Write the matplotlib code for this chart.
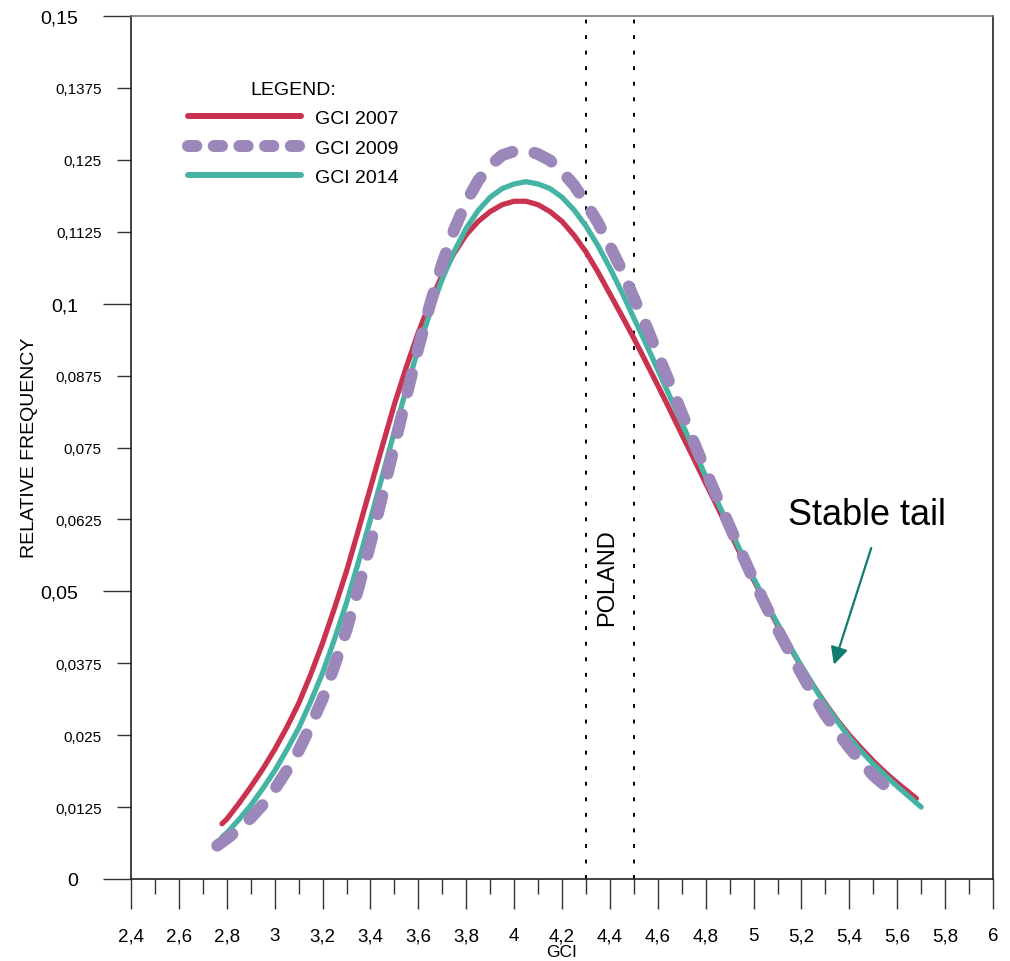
import matplotlib
matplotlib.use("Agg")
import matplotlib.pyplot as plt
from matplotlib.lines import Line2D

plt.rcParams['font.family'] = ['Liberation Sans', 'DejaVu Sans']

# GCI 2007
gci_2007_x = [2.78, 2.8, 2.85, 2.9, 2.95, 3.0, 3.05, 3.1, 3.15, 3.2, 3.25, 3.3, 3.35, 3.4, 3.45,
              3.5, 3.55, 3.6, 3.65, 3.7, 3.75, 3.8, 3.85, 3.9, 3.95, 4.0, 4.05, 4.1, 4.15, 4.2,
              4.25, 4.3, 4.35, 4.4, 4.45, 4.5, 4.55, 4.6, 4.65, 4.7, 4.75, 4.8, 4.85, 4.9, 4.95,
              5.0, 5.05, 5.1, 5.15, 5.2, 5.25, 5.3, 5.35, 5.4, 5.45, 5.5, 5.55, 5.6, 5.68]
gci_2007_y = [0.0096, 0.0104, 0.0131, 0.0160, 0.0191, 0.0225, 0.0263, 0.0305, 0.0355, 0.0410,
              0.0471, 0.0535, 0.0607, 0.0680, 0.0753, 0.0825, 0.0890, 0.0950, 0.1003, 0.1050,
              0.1088, 0.1120, 0.1143, 0.1160, 0.1172, 0.1178, 0.1178, 0.1172, 0.1160, 0.1143,
              0.1119, 0.1090, 0.1055, 0.1017, 0.0979, 0.0940, 0.0899, 0.0858, 0.0816, 0.0773,
              0.0731, 0.0688, 0.0646, 0.0603, 0.0561, 0.0520, 0.0480, 0.0441, 0.0404, 0.0369,
              0.0336, 0.0305, 0.0276, 0.0250, 0.0227, 0.0205, 0.0185, 0.0167, 0.0140]

# GCI 2009
gci_2009_x = [2.76, 2.8, 2.85, 2.9, 2.95, 3.0, 3.05, 3.1, 3.15, 3.2, 3.25, 3.3, 3.35, 3.4, 3.45,
              3.5, 3.55, 3.6, 3.65, 3.7, 3.75, 3.8, 3.85, 3.9, 3.95, 4.0, 4.05, 4.1, 4.15, 4.2,
              4.25, 4.3, 4.35, 4.4, 4.45, 4.5, 4.55, 4.6, 4.65, 4.7, 4.75, 4.8, 4.85, 4.9, 4.95,
              5.0, 5.05, 5.1, 5.15, 5.2, 5.25, 5.3, 5.35, 5.4, 5.45, 5.5, 5.55, 5.61]
gci_2009_y = [0.0058, 0.0070, 0.0087, 0.0106, 0.0129, 0.0156, 0.0188, 0.0223, 0.0266, 0.0313,
              0.0371, 0.0433, 0.0506, 0.0583, 0.0667, 0.0753, 0.0839, 0.0923, 0.1000, 0.1070,
              0.1129, 0.1177, 0.1214, 0.1240, 0.1258, 0.1265, 0.1267, 0.1260, 0.1249, 0.1230,
              0.1206, 0.1175, 0.1141, 0.1100, 0.1058, 0.1010, 0.0963, 0.0912, 0.0862, 0.0810,
              0.0760, 0.0710, 0.0661, 0.0613, 0.0566, 0.0520, 0.0476, 0.0434, 0.0395, 0.0357,
              0.0320, 0.0285, 0.0256, 0.0228, 0.0204, 0.0180, 0.0162, 0.0139]

# GCI 2014
gci_2014_x = [2.78, 2.8, 2.85, 2.9, 2.95, 3.0, 3.05, 3.1, 3.15, 3.2, 3.25, 3.3, 3.35, 3.4, 3.45,
              3.5, 3.55, 3.6, 3.65, 3.7, 3.75, 3.8, 3.85, 3.9, 3.95, 4.0, 4.05, 4.1, 4.15, 4.2,
              4.25, 4.3, 4.35, 4.4, 4.45, 4.5, 4.55, 4.6, 4.65, 4.7, 4.75, 4.8, 4.85, 4.9, 4.95,
              5.0, 5.05, 5.1, 5.15, 5.2, 5.25, 5.3, 5.35, 5.4, 5.45, 5.5, 5.55, 5.6, 5.65, 5.7]
gci_2014_y = [0.0073, 0.0080, 0.0103, 0.0128, 0.0157, 0.0188, 0.0224, 0.0262, 0.0308, 0.0358,
              0.0417, 0.0480, 0.0551, 0.0625, 0.0701, 0.0778, 0.0852, 0.0922, 0.0986, 0.1043,
              0.1091, 0.1131, 0.1162, 0.1185, 0.1200, 0.1208, 0.1212, 0.1208, 0.1200, 0.1185,
              0.1163, 0.1135, 0.1101, 0.1062, 0.1020, 0.0975, 0.0931, 0.0885, 0.0839, 0.0793,
              0.0747, 0.0700, 0.0655, 0.0610, 0.0566, 0.0523, 0.0483, 0.0444, 0.0406, 0.0370,
              0.0336, 0.0303, 0.0274, 0.0246, 0.0222, 0.0200, 0.0180, 0.0161, 0.0143, 0.0125]

poland_x = [4.3, 4.5]

x_major = [2.4, 2.6, 2.8, 3.0, 3.2, 3.4, 3.6, 3.8, 4.0, 4.2, 4.4, 4.6, 4.8, 5.0, 5.2, 5.4, 5.6, 5.8, 6.0]
x_major_labels = ["2,4", "2,6", "2,8", "3", "3,2", "3,4", "3,6", "3,8", "4", "4,2", "4,4", "4,6",
                  "4,8", "5", "5,2", "5,4", "5,6", "5,8", "6"]
x_minor = [2.5, 2.7, 2.9, 3.1, 3.3, 3.5, 3.7, 3.9, 4.1, 4.3, 4.5, 4.7, 4.9, 5.1, 5.3, 5.5, 5.7, 5.9]
y_major = [0, 0.05, 0.1, 0.15]
y_major_labels = ["0", "0,05", "0,1", "0,15"]
y_minor = [0.0125, 0.025, 0.0375, 0.0625, 0.075, 0.0875, 0.1125, 0.125, 0.1375]
y_minor_labels = ["0,0125", "0,025", "0,0375", "0,0625", "0,075", "0,0875", "0,1125", "0,125", "0,1375"]

red = "#C9334F"
purple = "#9B87B9"
green = "#45B4A4"
arrow_col = "#0E7D6E"

fig = plt.figure(figsize=(10.1, 9.62), dpi=100)
ax = fig.add_axes([131 / 1010, 1 - 880 / 962, (993 - 131) / 1010, (880 - 17) / 962])

ax.plot(gci_2007_x, gci_2007_y, color=red, lw=3.8, solid_capstyle="round",
        solid_joinstyle="round", zorder=3)
ax.plot(gci_2014_x, gci_2014_y, color=green, lw=3.8, solid_capstyle="round",
        solid_joinstyle="round", zorder=4)
ax.plot(gci_2009_x, gci_2009_y, color=purple, lw=8.6, dashes=(1.6, 1.9),
        dash_capstyle="round", dash_joinstyle="round", zorder=5)

for xv in poland_x:
    ax.axvline(xv, color="black", lw=1.4, dashes=(2, 6), zorder=2)

ax.text(4.39, 0.0525, "POLAND", rotation=90, ha="center", va="center", fontsize=17)

ax.text(5.474, 0.0634, "Stable tail", ha="center", va="center", fontsize=26)
ax.annotate("", xy=(5.332, 0.0368), xytext=(5.495, 0.058),
            arrowprops=dict(arrowstyle="-|>", color=arrow_col, lw=1.6, mutation_scale=26))

ax.set_xlim(2.4, 6.0)
ax.set_ylim(0, 0.15)
ax.set_xticks(x_major)
ax.set_xticklabels(x_major_labels)
ax.set_xticks(x_minor, minor=True)
ax.set_yticks(y_major)
ax.set_yticklabels(y_major_labels)
ax.set_yticks(y_minor, minor=True)
ax.set_yticklabels(y_minor_labels, minor=True)

ax.tick_params(axis="x", which="major", length=21.6, width=1, pad=13, labelsize=13.5)
ax.tick_params(axis="x", which="minor", length=10.8, width=1)
ax.tick_params(axis="y", which="major", length=20, width=1, pad=18, labelsize=14)
ax.tick_params(axis="y", which="minor", length=10, width=1, pad=11, labelsize=11)
ax.tick_params(axis="both", which="both", color="#333333")

for side in ["left", "right", "bottom"]:
    ax.spines[side].set_color("#222222")
ax.spines["top"].set_color("#777777")
for side in ax.spines:
    ax.spines[side].set_linewidth(1.2)

fig.text(30 / 1010, 1 - 448 / 962, "RELATIVE FREQUENCY", rotation=90, ha="center", va="center",
         fontsize=14)
fig.text(562 / 1010, 1 - 953 / 962, "GCI", ha="center", va="center", fontsize=12.5)

handles = [
    Line2D([], [], color=red, lw=4.3, solid_capstyle="round"),
    Line2D([], [], color=purple, lw=8.6, dashes=(0.7, 1.45), dash_capstyle="round"),
    Line2D([], [], color=green, lw=4.3, solid_capstyle="round"),
]
leg = ax.legend(handles, ["GCI 2007", "GCI 2009", "GCI 2014"], title="LEGEND:",
                loc="upper left", bbox_to_anchor=(188 / 1010, 1 - 82 / 962),
                bbox_transform=fig.transFigure, frameon=False, fontsize=14, title_fontsize=14,
                handlelength=5.8, handletextpad=0.75, labelspacing=0.6, borderpad=0,
                borderaxespad=0)

fig.savefig("out.png", dpi=100)
